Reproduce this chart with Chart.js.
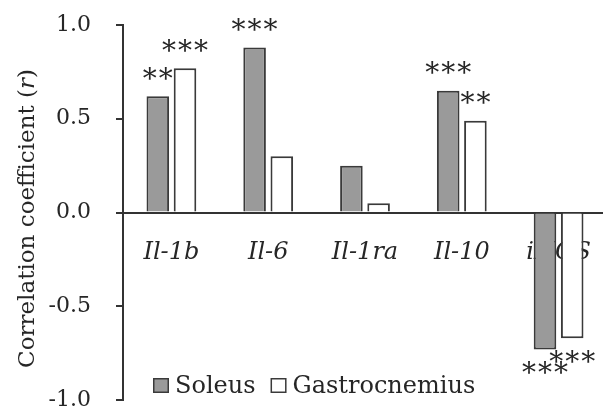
<!DOCTYPE html>
<html>
<head>
<meta charset="utf-8">
<script src="https://cdn.jsdelivr.net/npm/chart.js@4/dist/chart.umd.min.js"></script>
<style>
  html, body { margin: 0; padding: 0; background: #fff; overflow: hidden; }
  #wrap { width: 607px; height: 415px; overflow: hidden; }
</style>
</head>
<body>
<div id="wrap"><canvas id="corrChart" width="607" height="415"></canvas></div>
<script>
const categories = ['Il-1b', 'Il-6', 'Il-1ra', 'Il-10', 'iNOS'];
const soleus = [0.62, 0.88, 0.25, 0.65, -0.73];
const gastrocnemius = [0.77, 0.30, 0.05, 0.49, -0.67];
const soleusStars = ['**', '***', '', '***', '***'];
const gastroStars = ['***', '', '', '**', '***'];
const yTicks = [-1.0, -0.5, 0.0, 0.5, 1.0];

const SERIF = '"DejaVu Serif", serif';
const INK = '#262626';

// stars above (or below) each bar
const starsPlugin = {
    id: 'stars',
    afterDraw(chart) {
        const ctx = chart.ctx;
        const sets = [soleusStars, gastroStars];
        ctx.save();
        ctx.font = '28px ' + SERIF;
        ctx.fillStyle = INK;
        ctx.textAlign = 'center';
        ctx.textBaseline = 'alphabetic';
        const m = ctx.measureText('*');
        const mid = (m.actualBoundingBoxAscent - m.actualBoundingBoxDescent) / 2;
        sets.forEach((stars, di) => {
            const meta = chart.getDatasetMeta(di);
            meta.data.forEach((bar, i) => {
                const s = stars[i];
                if (!s) return;
                const val = chart.data.datasets[di].data[i];
                const cy = val >= 0 ? bar.y - 23 : bar.y + 18;
                const pitch = 16;
                const x0 = bar.x - (s.length - 1) * pitch / 2;
                for (let k = 0; k < s.length; k++) {
                    ctx.fillText('*', x0 + k * pitch, cy + mid);
                }
            });
        });
        ctx.restore();
    }
};

// y title with italic r, and legend inside the plot
const extrasPlugin = {
    id: 'extras',
    afterDraw(chart) {
        const ctx = chart.ctx;
        const area = chart.chartArea;
        ctx.save();

        // axis title
        const a = 'Correlation coefficient (';
        const b = 'r';
        const c = ')';
        ctx.font = '23px ' + SERIF;
        const wa = ctx.measureText(a).width;
        const wc = ctx.measureText(c).width;
        ctx.font = 'italic 23px ' + SERIF;
        const wb = ctx.measureText(b).width;
        const total = wa + wb + wc;
        ctx.translate(34, (area.top + area.bottom) / 2 + 6);
        ctx.rotate(-Math.PI / 2);
        ctx.fillStyle = INK;
        ctx.textBaseline = 'alphabetic';
        ctx.textAlign = 'left';
        let x = -total / 2;
        ctx.font = '23px ' + SERIF;
        ctx.fillText(a, x, 0);
        x += wa;
        ctx.font = 'italic 23px ' + SERIF;
        ctx.fillText(b, x, 0);
        x += wb;
        ctx.font = '23px ' + SERIF;
        ctx.fillText(c, x, 0);
        ctx.restore();

        // legend
        ctx.save();
        ctx.font = '24px ' + SERIF;
        ctx.textBaseline = 'alphabetic';
        ctx.textAlign = 'left';
        let lx = area.left + 30;
        const base = area.bottom - 7;
        chart.data.datasets.forEach(ds => {
            ctx.fillStyle = ds.backgroundColor;
            ctx.strokeStyle = ds.borderColor;
            ctx.lineWidth = 1.5;
            ctx.fillRect(lx, base - 15, 16, 15);
            ctx.strokeRect(lx + 0.75, base - 14.25, 14.5, 13.5);
            ctx.fillStyle = INK;
            ctx.fillText(ds.label, lx + 22, base);
            lx += 22 + ctx.measureText(ds.label).width + 15;
        });
        ctx.restore();
    }
};

const ctx = document.getElementById('corrChart').getContext('2d');

new Chart(ctx, {
    type: 'bar',
    data: {
        labels: categories,
        datasets: [
            {
                label: 'Soleus',
                data: soleus,
                backgroundColor: '#9a9a9a',
                borderColor: '#3a3a3a',
                borderWidth: 2
            },
            {
                label: 'Gastrocnemius',
                data: gastrocnemius,
                backgroundColor: '#ffffff',
                borderColor: '#3a3a3a',
                borderWidth: 2
            }
        ]
    },
    options: {
        responsive: false,
        animation: false,
        devicePixelRatio: 1,
        layout: { padding: { top: 25, bottom: 15, left: 0, right: 0 } },
        categoryPercentage: 0.562,
        barPercentage: 0.83,
        plugins: {
            legend: { display: false },
            tooltip: { enabled: false }
        },
        scales: {
            x: {
                type: 'category',
                position: { y: 0 },
                z: 1,
                afterFit(scale) {
                    scale.height = 0;
                    scale.paddingLeft = 0;
                    scale.paddingRight = 0;
                    scale.paddingTop = 0;
                    scale.paddingBottom = 0;
                },
                grid: { display: false, drawTicks: false },
                border: { display: true, color: '#333', width: 2 },
                ticks: {
                    color: INK,
                    padding: 26,
                    font: { family: SERIF, size: 24, style: 'italic' },
                    maxRotation: 0
                }
            },
            y: {
                min: -1,
                max: 1,
                afterFit(scale) {
                    scale.width = 123;
                    scale.paddingTop = 0;
                    scale.paddingBottom = 0;
                },
                afterBuildTicks(scale) { scale.ticks = yTicks.map(v => ({ value: v })); },
                grid: {
                    drawOnChartArea: false,
                    drawTicks: true,
                    tickLength: 7,
                    color: '#333',
                    lineWidth: 2
                },
                border: { display: true, color: '#333', width: 2 },
                ticks: {
                    color: INK,
                    padding: 25,
                    font: { family: SERIF, size: 22 },
                    callback: v => v.toFixed(1)
                }
            }
        }
    },
    plugins: [starsPlugin, extrasPlugin]
});
</script>
</body>
</html>
